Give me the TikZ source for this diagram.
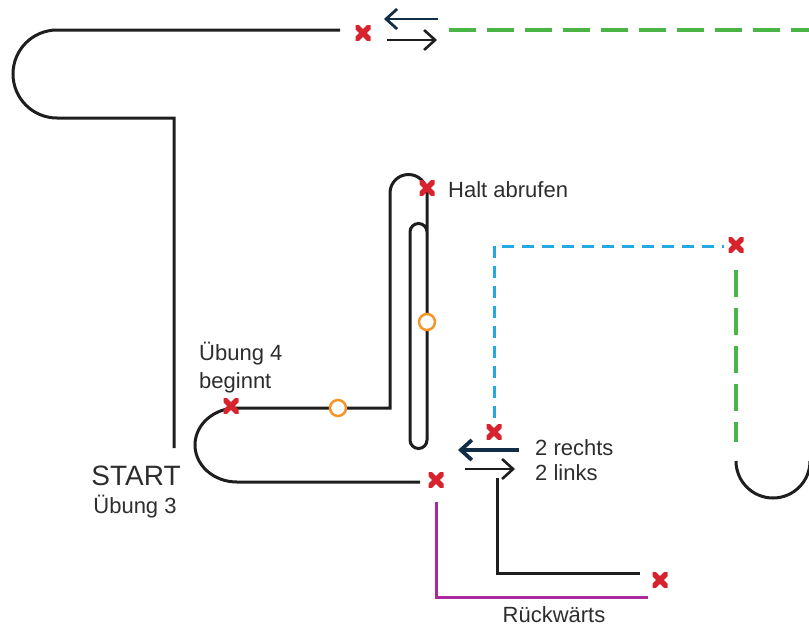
\documentclass[tikz,border=0pt]{standalone}
\usepackage{fontspec}
\setmainfont{Liberation Sans}
\usetikzlibrary{arrows.meta}
\definecolor{trk}{RGB}{30,30,30}
\definecolor{mkred}{RGB}{215,35,45}
\definecolor{grn}{RGB}{75,180,70}
\definecolor{blu}{RGB}{35,170,230}
\definecolor{mag}{RGB}{170,40,160}
\definecolor{org}{RGB}{245,150,40}
\definecolor{navy}{RGB}{20,45,70}
\definecolor{txt}{RGB}{45,45,45}
\tikzset{
  track/.style={draw=trk,line width=3pt},
  grdash/.style={draw=grn,line width=3.2pt,dash pattern=on 27pt off 11pt},
  bldash/.style={draw=blu,line width=3pt,dash pattern=on 12pt off 8pt},
  magline/.style={draw=mag,line width=3pt},
  cone/.style={circle,draw=org,fill=white,line width=2.5pt,minimum size=16pt,inner sep=0pt},
  xmark/.style={inner sep=0pt,minimum size=15pt,
    path picture={\draw[mkred,line width=5.5pt]
      (path picture bounding box.south west)--(path picture bounding box.north east)
      (path picture bounding box.north west)--(path picture bounding box.south east);}},
  larr/.style={line width=2.8pt,-{Straight Barb[length=11pt,width=20pt]}},
  lbl/.style={text=txt,font=\fontsize{22}{28}\selectfont,inner sep=0pt},
}
\begin{document}
\begin{tikzpicture}[x=1pt,y=-1pt]
\useasboundingbox (0,0) rectangle (809,629);
\clip (0,0) rectangle (809,629);
% coordinates
\coordinate (t1) at (340,30);
\coordinate (t2) at (57,30);
\coordinate (t3) at (174,118);
\coordinate (t4) at (174,448);
\coordinate (g1) at (449,30);
\coordinate (g2) at (809,30);
\coordinate (b1) at (420,482);
\coordinate (b2) at (237,482);
\coordinate (h1) at (390,408);
\coordinate (h2) at (390,193);
\coordinate (h3) at (427,440);
\coordinate (h4) at (410,232);
\coordinate (bl1) at (494,418);
\coordinate (bl2) at (494,246);
\coordinate (bl3) at (724,246);
\coordinate (gv1) at (736,270);
\coordinate (gv2) at (736,442);
\coordinate (rc) at (736,461);
\coordinate (m1) at (436,502);
\coordinate (m2) at (436,597);
\coordinate (m3) at (648,597);
\coordinate (k1) at (497,478);
\coordinate (k2) at (497,573);
\coordinate (k3) at (640,573);
\coordinate (a1s) at (438,19);
\coordinate (a1e) at (384,19);
\coordinate (a2s) at (387,40);
\coordinate (a2e) at (437,40);
\coordinate (a3s) at (519,450);
\coordinate (a3e) at (458,450);
\coordinate (a4s) at (465,469);
\coordinate (a4e) at (515,469);
% top loop
\draw[track] (t1) -- (t2) arc[start angle=270,end angle=90,radius=44] -- (t3) -- (t4);
\draw[grdash] (g1) -- (g2);
% exercise 4 track
\draw[track] (b1) -- (b2) arc[start angle=90,end angle=270,x radius=42,y radius=37]
  -- (h1) -- (h2) arc[start angle=180,end angle=360,radius=18.5]
  -- (h3) arc[start angle=0,end angle=180,radius=8.5]
  -- (h4) arc[start angle=180,end angle=360,radius=8.5];
% blue and green dashed
\draw[bldash] (bl1) -- (bl2) -- (bl3);
\draw[grdash] (gv1) -- (gv2);
\draw[track] (rc) arc[start angle=180,end angle=0,radius=37];
% magenta and black L
\draw[magline] (m1) -- (m2) -- (m3);
\draw[track] (k1) -- (k2) -- (k3);
% arrows
\draw[larr,navy] (a1s) -- (a1e);
\draw[larr,trk,line width=2.6pt] (a2s) -- (a2e);
\draw[larr,navy,line width=3.8pt] (a3s) -- (a3e);
\draw[larr,trk,line width=2.6pt] (a4s) -- (a4e);
% cones
\node[cone] (c1) at (338,408) {};
\node[cone] (c2) at (427,322) {};
% red marks
\node[xmark] (x1) at (363,33) {};
\node[xmark] (x2) at (427,188) {};
\node[xmark] (x3) at (231,406) {};
\node[xmark] (x4) at (436,480) {};
\node[xmark] (x5) at (494,432) {};
\node[xmark] (x6) at (736,245) {};
\node[xmark] (x7) at (660,580) {};
% labels
\node[lbl,anchor=base west] (l1) at (448,197) {Halt abrufen};
\node[lbl,anchor=base,font=\fontsize{28}{30}\selectfont] (l2) at (136,485) {START};
\node[lbl,anchor=base] (l3) at (135,513) {Übung 3};
\node[lbl,anchor=base west] (l4) at (199,360) {Übung 4};
\node[lbl,anchor=base west] (l5) at (199,388) {beginnt};
\node[lbl,anchor=base west] (l6) at (535,455) {2 rechts};
\node[lbl,anchor=base west] (l7) at (535,480) {2 links};
\node[lbl,anchor=base] (l8) at (554,622) {Rückwärts};
\end{tikzpicture}
\end{document}
